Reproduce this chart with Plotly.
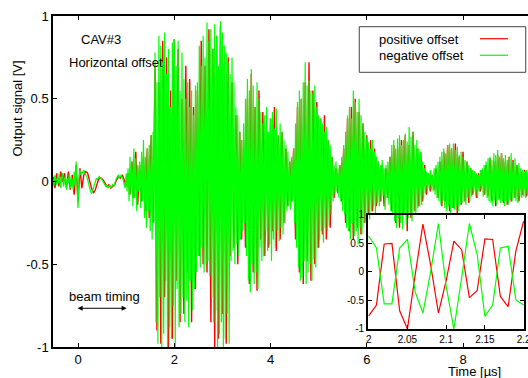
import plotly.graph_objects as go

# ---------------- data ----------------
# red (positive offset): sampled every 0.04 us from -0.52 us
red_t0 = -0.52
red_dt = 0.04
red_main = [
    0.03, -0.04, 0.05, -0.03, 0.06, 0.0, 0.05, -0.04, 0.06, -0.05, 0.04, -0.08, 0.10, -0.12, 0.08, -0.04, 0.04, 0.06, 0.05, 0.0, -0.04, -0.07, -0.05, -0.01, 0.02,
    0.02, 0.01, -0.01, -0.03, -0.02, -0.04, -0.03, -0.02, 0.01, 0.03, 0.02, 0.04, 0.01, -0.03, 0.05, -0.08, 0.12, -0.10, 0.18, -0.14, 0.10, -0.12, 0.15, -0.18, 0.20,
    -0.22, 0.28, -0.25, 0.70, -0.90, 0.60, -0.98, 0.85, -0.70, 0.75, -1.0, 0.55, -0.95, 0.86, -0.60, 0.80, -0.85, 0.50, -0.80, 0.70, -0.55, 0.62, -0.85, 0.45, -0.65,
    0.55, -0.45, 0.85, -0.50, 0.70, -0.55, 0.92, -0.85, 0.80, -1.0, 0.88, -0.95, 0.94, -0.80, 0.70, -0.98, 0.75, -0.45, 0.60, -0.40, 0.40, -0.50, 0.30, -0.35, 0.25,
    -0.40, 0.50, -0.62, 0.65, -0.55, 0.45, -0.66, 0.55, -0.35, 0.42, -0.45, 0.30, -0.40, 0.38, -0.30, 0.45, -0.42, 0.28, -0.35, 0.30, -0.25, 0.20, -0.15, 0.12, -0.12,
    0.20, -0.35, 0.45, -0.55, 0.50, -0.62, 0.60, -0.48, 0.72, -0.60, 0.55, -0.50, 0.48, -0.40, 0.38, -0.32, 0.40, -0.35, 0.25, -0.28, 0.15, -0.10, 0.08, -0.07, 0.10,
    -0.12, 0.20, -0.25, 0.38, -0.30, 0.45, -0.35, 0.50, -0.28, 0.42, -0.32, 0.35, -0.25, 0.28, -0.20, 0.25, -0.18, 0.20, -0.15, 0.12, -0.12, 0.10, -0.15, 0.08, -0.10,
    0.15, -0.18, 0.22, -0.25, 0.20, -0.28, 0.25, -0.20, 0.28, -0.30, 0.22, -0.22, 0.30, -0.18, 0.20, -0.15, 0.18, -0.12, 0.10, -0.08, 0.05, -0.06, 0.04, -0.05, 0.08,
    -0.10, 0.12, -0.15, 0.18, -0.12, 0.22, -0.18, 0.20, -0.16, 0.23, -0.19, 0.15, -0.14, 0.18, -0.12, 0.12, -0.13, 0.08, -0.08, 0.06, -0.10, 0.05, -0.06, 0.07, -0.08,
    0.10, -0.09, 0.14, -0.12, 0.12, -0.15, 0.16, -0.10, 0.17, -0.13, 0.12, -0.14, 0.15, -0.12, 0.13, -0.10, 0.10, -0.12, 0.06, -0.08, 0.07, -0.09, 0.05, -0.06, 0.04,
]
red_time = [round(red_t0 + red_dt * i, 2) for i in range(len(red_main))]

# green (negative offset): sampled every 0.02 us from -0.52 us
green_t0 = -0.52
green_dt = 0.02
green_main = [
    # -0.52 .. 0.46
    0.02, -0.03, 0.04, 0.01, -0.02, 0.05, -0.01, 0.03, -0.04, 0.02,
    0.05, -0.03, 0.01, 0.04, -0.05, 0.02, -0.01, 0.05, -0.04, 0.03,
    0.01, -0.05, 0.06, -0.03, 0.12, -0.08,
    -0.16, 0.02, 0.07, 0.04, 0.06, 0.05, 0.07, 0.05, 0.04, 0.03,
    0.01, -0.02, -0.04, -0.06, -0.07, -0.06, -0.04, -0.02, 0.0, 0.02,
    0.01, 0.02, 0.03, 0.02,
    # 0.48 .. 1.46
    0.02, 0.01, 0.0, -0.01, -0.02, -0.03, -0.02, -0.04, -0.03, -0.02,
    -0.04, -0.03, -0.02, -0.03, -0.01, 0.01, 0.02, 0.03, 0.04, 0.02,
    0.03, 0.04, 0.02, 0.01, -0.02, -0.04, 0.05, -0.06, 0.08, -0.12,
    0.15, -0.08, 0.12, -0.15, 0.20, -0.10, 0.14, -0.18, 0.10, -0.06,
    0.12, -0.16, 0.18, -0.12, 0.25, -0.22, 0.15, -0.28, 0.20, -0.18,
    # 1.48 .. 2.46
    0.22, -0.30, 0.28, -0.35, 0.30, -0.25,
    0.78, -0.85, 0.60, -0.98, 0.88, -0.70, 0.82, -1.0, 0.72, -0.92,
    0.90, -0.60, 0.65, -1.0, 0.80, -0.88, 0.45, -0.95, 0.84, -0.75,
    0.86, -1.0, 0.70, -0.65, 0.85, -0.88, 0.55, -0.80, 0.78, -0.70,
    0.62, -0.85, 0.50, -0.72, 0.60, -0.88, 0.45, -0.60, 0.55, -0.78,
    0.40, -0.65, 0.58, -0.55,
    # 2.48 .. 3.46
    0.60, -0.45, 0.82, -0.52, 0.70, -0.40, 0.88, -0.55, 0.75, -0.50,
    0.96, -0.48, 0.85, -0.57, 0.92, -0.70, 0.80, -0.85, 0.95, -0.78,
    0.88, -1.0, 0.70, -0.92, 0.97, -0.85, 0.90, -1.0, 0.82, -0.95,
    0.78, -0.80, 0.72, -0.98, 0.65, -0.48, 0.75, -0.42, 0.60, -0.50,
    0.45, -0.38, 0.40, -0.45, 0.30, -0.35, 0.25, -0.30, 0.35, -0.25,
    # 3.48 .. 4.46
    0.50, -0.45, 0.62, -0.60, 0.55, -0.67, 0.68, -0.50, 0.58, -0.62,
    0.45, -0.55, 0.60, -0.65, 0.50, -0.40, 0.42, -0.48, 0.35, -0.45,
    0.40, -0.30, 0.45, -0.42, 0.30, -0.38, 0.38, -0.48, 0.42, -0.35,
    0.32, -0.40, 0.44, -0.30, 0.28, -0.36, 0.35, -0.28, 0.30, -0.32,
    0.25, -0.25, 0.22, -0.18, 0.18, -0.15, 0.12, -0.17, 0.15, -0.12,
    # 4.48 .. 5.46
    0.20, -0.25, 0.35, -0.40, 0.48, -0.52, 0.55, -0.60, 0.50, -0.58,
    0.60, -0.48, 0.72, -0.62, 0.58, -0.55, 0.61, -0.50, 0.55, -0.60,
    0.53, -0.47, 0.58, -0.52, 0.45, -0.40, 0.40, -0.35, 0.38, -0.30,
    0.35, -0.37, 0.30, -0.28, 0.33, -0.30, 0.25, -0.27, 0.22, -0.20,
    0.15, -0.12, 0.10, -0.08, 0.12, -0.06, 0.08, -0.10, 0.10, -0.12,
    # 5.48 .. 6.46
    0.15, -0.18, 0.22, -0.20, 0.30, -0.28, 0.40, -0.30, 0.45, -0.35,
    0.38, -0.25, 0.55, -0.33, 0.48, -0.30, 0.42, -0.38, 0.50, -0.28,
    0.40, -0.32, 0.35, -0.25, 0.30, -0.22, 0.27, -0.20, 0.24, -0.23,
    0.20, -0.18, 0.25, -0.15, 0.18, -0.20, 0.15, -0.13, 0.12, -0.15,
    0.10, -0.12, 0.13, -0.09, 0.08, -0.17, 0.10, -0.10, 0.12, -0.14,
    # 6.48 .. 7.46
    0.15, -0.18, 0.22, -0.20, 0.25, -0.24, 0.20, -0.28, 0.26, -0.22,
    0.28, -0.25, 0.22, -0.29, 0.25, -0.20, 0.29, -0.26, 0.24, -0.22,
    0.33, -0.20, 0.27, -0.24, 0.30, -0.18, 0.22, -0.20, 0.25, -0.16,
    0.20, -0.15, 0.18, -0.14, 0.12, -0.10, 0.08, -0.07, 0.06, -0.05,
    0.05, -0.04, 0.07, -0.05, 0.04, -0.06, 0.08, -0.08, 0.10, -0.10,
    # 7.48 .. 8.46
    0.12, -0.12, 0.15, -0.14, 0.18, -0.12, 0.20, -0.16, 0.17, -0.18,
    0.22, -0.15, 0.23, -0.19, 0.20, -0.16, 0.23, -0.17, 0.19, -0.15,
    0.21, -0.18, 0.16, -0.14, 0.18, -0.13, 0.15, -0.12, 0.13, -0.14,
    0.12, -0.10, 0.10, -0.12, 0.08, -0.09, 0.07, -0.06, 0.06, -0.08,
    0.05, -0.10, 0.04, -0.06, 0.07, -0.05, 0.08, -0.09, 0.10, -0.08,
    # 8.48 .. 9.46
    0.12, -0.10, 0.14, -0.12, 0.15, -0.13, 0.13, -0.15, 0.17, -0.12,
    0.16, -0.14, 0.19, -0.11, 0.15, -0.13, 0.17, -0.12, 0.14, -0.15,
    0.16, -0.12, 0.13, -0.14, 0.15, -0.11, 0.17, -0.12, 0.12, -0.10,
    0.14, -0.12, 0.10, -0.13, 0.11, -0.09, 0.08, -0.10, 0.07, -0.09,
    0.06, -0.10, 0.07, -0.08, 0.05, -0.09, 0.06, -0.07, 0.05, -0.06,
]
green_time = [round(green_t0 + green_dt * i, 2) for i in range(len(green_main))]

# inset: zoom on 2.00 - 2.20 us, 10 ns samples
inset_time = [2.00, 2.01, 2.02, 2.03, 2.04, 2.05, 2.06, 2.07, 2.08, 2.09, 2.10,
              2.11, 2.12, 2.13, 2.14, 2.15, 2.16, 2.17, 2.18, 2.19, 2.20]
inset_red = [-0.77, -0.58, 0.49, 0.50, -0.68, -1.0, -0.05, 0.84, 0.12, -0.72, -0.15,
             0.54, 0.39, -0.45, -0.33, 0.58, 0.57, -0.43, -0.61, 0.37, 0.89]
inset_green = [0.63, 0.42, -0.56, -0.56, 0.42, 0.57, -0.35, -0.72, 0.0, 0.85, -0.25,
               -1.0, -0.10, 0.85, 0.31, -0.78, -0.58, 0.42, 0.45, -0.49, -0.58]

main_xticks = [0, 2, 4, 6, 8]
main_yticks = [-1, -0.5, 0, 0.5, 1]
main_yticktext = ["-1", "-0.5", "0", "0.5", "1"]
inset_xticks = [2, 2.05, 2.1, 2.15, 2.2]
inset_xticktext = ["2", "2.05", "2.1", "2.15", "2.2"]
inset_yticks = [-1, -0.5, 0, 0.5, 1]
inset_yticktext = ["-1", "-0.5", "0", "0.5", "1"]

series_names = ["positive offset", "negative offset"]
RED = "#ff0000"
GREEN = "#00ff00"
FONT = "Liberation Sans, Arial, sans-serif"

# ---------------- figure ----------------
fig = go.Figure()
fig.add_trace(go.Scatter(x=red_time, y=red_main, mode="lines", name=series_names[0],
                         line=dict(color=RED, width=1.4), xaxis="x", yaxis="y"))
fig.add_trace(go.Scatter(x=green_time, y=green_main, mode="lines", name=series_names[1],
                         line=dict(color=GREEN, width=1.2), xaxis="x", yaxis="y"))
fig.add_trace(go.Scatter(x=inset_time, y=inset_red, mode="lines", name=series_names[0],
                         line=dict(color=RED, width=1.2), xaxis="x2", yaxis="y2"))
fig.add_trace(go.Scatter(x=inset_time, y=inset_green, mode="lines", name=series_names[1],
                         line=dict(color=GREEN, width=1.2), xaxis="x2", yaxis="y2"))

axis_common = dict(showgrid=False, zeroline=False, showline=True, linecolor="black",
                   linewidth=1.5, ticks="inside", ticklen=4, tickcolor="black",
                   tickwidth=1, color="black", automargin=False)

fig.update_layout(
    width=528, height=378,
    margin=dict(l=53, r=0, t=16, b=31, autoexpand=False),
    paper_bgcolor="white", plot_bgcolor="rgba(0,0,0,0)",
    showlegend=False,
    font=dict(family=FONT, size=13, color="black"),
    xaxis=dict(domain=[0, 1], range=[-0.52, 9.35], tickvals=main_xticks,
               mirror="ticks", anchor="y", tickfont=dict(size=13), **axis_common),
    yaxis=dict(domain=[0, 1], range=[-1, 1], tickvals=main_yticks, ticktext=main_yticktext,
               mirror=False, anchor="x", tickfont=dict(size=13), **axis_common),
    xaxis2=dict(domain=[0.663, 0.9916], range=[1.999, 2.2005], tickvals=inset_xticks,
                ticktext=inset_xticktext, mirror="ticks", anchor="y2",
                ticklabeloverflow="allow",
                tickfont=dict(size=10), **axis_common),
    yaxis2=dict(domain=[0.0544, 0.399], range=[-1, 1], tickvals=inset_yticks,
                ticktext=inset_yticktext, mirror="ticks", anchor="x2",
                tickfont=dict(size=10), **axis_common),
)

ann = []
# axis titles
ann.append(dict(text="Time [µs]", xref="paper", yref="paper", x=0.888, y=-0.0755,
                xanchor="center", yanchor="middle", showarrow=False,
                font=dict(size=13)))
ann.append(dict(text="Output signal [V]", xref="paper", yref="paper", x=-0.0737, y=0.7205,
                xanchor="center", yanchor="middle", textangle=-90, showarrow=False,
                font=dict(size=13)))
# labels inside plot
ann.append(dict(text="CAV#3", xref="paper", yref="paper", x=0.0547, y=0.9275,
                xanchor="left", yanchor="middle", showarrow=False, font=dict(size=13)))
ann.append(dict(text="Horizontal offset", xref="paper", yref="paper", x=0.0295, y=0.861,
                xanchor="left", yanchor="middle", showarrow=False, font=dict(size=13)))
ann.append(dict(text="beam timing", xref="paper", yref="paper", x=0.0295, y=0.154,
                xanchor="left", yanchor="middle", showarrow=False, font=dict(size=13)))
# beam timing double arrow
ann.append(dict(text="", xref="x", yref="y", axref="x", ayref="y",
                x=1.01, y=-0.766, ax=-0.04, ay=-0.766, showarrow=True,
                arrowhead=2, arrowside="end+start", arrowsize=1, arrowwidth=1,
                arrowcolor="black"))
# manual legend (gnuplot style: text left, sample right)
ann.append(dict(text=series_names[0], xref="paper", yref="paper", x=0.6815, y=0.9275,
                xanchor="left", yanchor="middle", showarrow=False, font=dict(size=13)))
ann.append(dict(text=series_names[1], xref="paper", yref="paper", x=0.6815, y=0.8792,
                xanchor="left", yanchor="middle", showarrow=False, font=dict(size=13)))
fig.update_layout(annotations=ann)

shapes = [
    dict(type="rect", xref="paper", yref="paper", x0=0.6448, x1=0.9952, y0=0.8299, y1=0.9677,
         line=dict(color="#444444", width=1), fillcolor="white", layer="above"),
    dict(type="line", xref="paper", yref="paper", x0=0.8989, x1=0.9579, y0=0.9314, y1=0.9314,
         line=dict(color=RED, width=1.2)),
    dict(type="line", xref="paper", yref="paper", x0=0.8989, x1=0.9579, y0=0.8813, y1=0.8813,
         line=dict(color=GREEN, width=1.2)),
]
fig.update_layout(shapes=shapes)

fig.write_html("out.html")
